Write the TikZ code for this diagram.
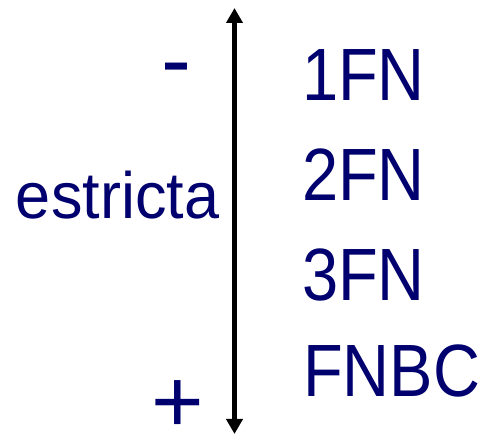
\documentclass[tikz,border=0pt]{standalone}
\usepackage{fontspec}
\usepackage{graphicx}
\setmainfont{Liberation Sans}
\usetikzlibrary{arrows.meta}
\definecolor{navytext}{RGB}{0,0,110}

\newcommand{\tallbox}[2]{\scalebox{1}[#1]{#2}}

\begin{document}
\begin{tikzpicture}[
    x=1pt, y=-1pt,
    every node/.style={inner sep=0pt, outer sep=0pt, text=navytext},
    level/.style={font=\fontsize{65}{65}\selectfont, anchor=base west},
    sign/.style={font=\fontsize{90}{90}\selectfont, anchor=base},
    axis/.style={{Triangle[width=16pt,length=15pt]}-{Triangle[width=16pt,length=15pt]}, line width=4.5pt}
]
\useasboundingbox (0,0) rectangle (482,435);

\coordinate (top) at (234.5,8);
\coordinate (bottom) at (234.5,434);

\node (minus) [sign] at (176.5,90.5) {-};
\node (plus) [sign] at (177.5,432) {+};
\node (estricta) [level, font=\fontsize{63}{63}\selectfont] at (16,219) {\tallbox{1.04}{estricta}};

\node (fn1) [level] at (302,100.5) {\tallbox{1.14}{1FN}};
\node (fn2) [level] at (302,200.5) {\tallbox{1.14}{2FN}};
\node (fn3) [level] at (302,300.5) {\tallbox{1.14}{3FN}};
\node (fnbc) [level] at (303,396.5) {\tallbox{1.14}{FNBC}};

\draw [axis] (top) -- (bottom);

\end{tikzpicture}
\end{document}
